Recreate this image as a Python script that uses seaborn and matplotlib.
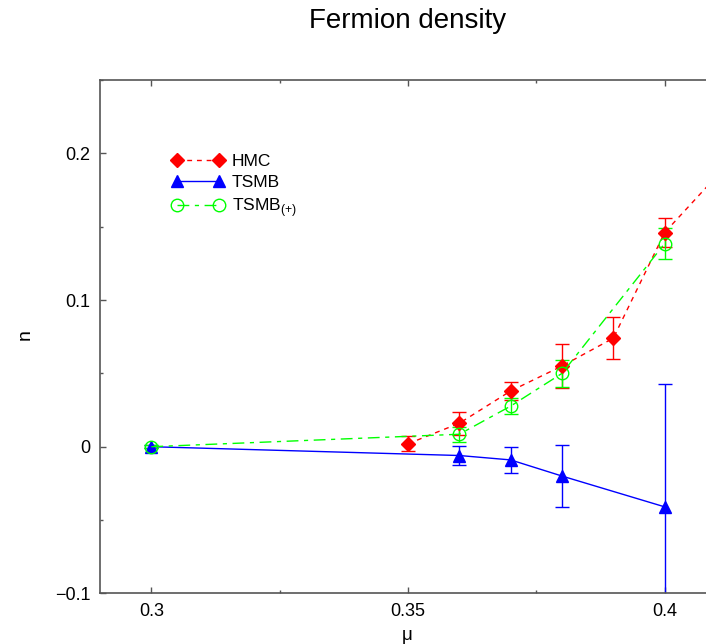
import matplotlib
matplotlib.use("Agg")
import matplotlib.pyplot as plt
import seaborn as sns
import pandas as pd
from matplotlib.ticker import FixedLocator, MultipleLocator

# ---- data ----
mu_hmc = [0.35, 0.36, 0.37, 0.38, 0.39, 0.40, 0.41]
n_hmc = [0.002, 0.016, 0.038, 0.055, 0.074, 0.146, 0.184]
err_hmc = [0.005, 0.008, 0.006, 0.015, 0.0145, 0.010, 0.010]

mu_tsmb = [0.30, 0.36, 0.37, 0.38, 0.40]
n_tsmb = [0.0, -0.006, -0.009, -0.020, -0.041]
err_tsmb = [0.001, 0.0067, 0.009, 0.021, 0.084]

mu_tsmbp = [0.30, 0.36, 0.37, 0.38, 0.40]
n_tsmbp = [0.0, 0.0085, 0.0277, 0.050, 0.1385]
err_tsmbp = [0.001, 0.005, 0.0055, 0.009, 0.0108]

x_ticks = [0.30, 0.35, 0.40]
x_ticklabels = ["0.3", "0.35", "0.4"]
y_ticks = [-0.1, 0.0, 0.1, 0.2]
y_ticklabels = ["\u22120.1", "0", "0.1", "0.2"]

title = "Fermion density"
xlabel = "\u03bc"
ylabel = "n"
labels = ["HMC", "TSMB", r"TSMB$_{\mathregular{(+)}}$"]

# ---- style ----
sns.set_style("ticks")
plt.rcParams["font.family"] = ["Liberation Sans", "DejaVu Sans"]
plt.rcParams["mathtext.fontset"] = "custom"
plt.rcParams["mathtext.rm"] = "Liberation Sans"
plt.rcParams["text.color"] = "black"
plt.rcParams["xtick.labelcolor"] = "black"
plt.rcParams["ytick.labelcolor"] = "black"

W, H = 706, 644
fig = plt.figure(figsize=(W / 100, H / 100), dpi=100)
ax_l, ax_r, ax_t, ax_b = 100, 716, 80, 593.4
ax = fig.add_axes([ax_l / W, (H - ax_b) / H, (ax_r - ax_l) / W, (ax_b - ax_t) / H])

spine_col = "#555555"

series = [
    (mu_hmc, n_hmc, err_hmc, "#ff0000", "D", 7, (3.5, 3.5), True, labels[0]),
    (mu_tsmb, n_tsmb, err_tsmb, "#0000ff", "^", 8.5, None, True, labels[1]),
    (mu_tsmbp, n_tsmbp, err_tsmbp, "#00ff00", "o", 9, (8.5, 4, 3, 4), False, labels[2]),
]

for mu, n, err, col, mk, ms, dash, filled, lab in series:
    df = pd.DataFrame({"mu": mu, "n": n})
    ax.errorbar(mu, n, yerr=err, fmt="none", ecolor=col, elinewidth=1.0,
                capsize=5, capthick=1.0, zorder=2)
    kw = dict(color=col, marker=mk, markersize=ms, linewidth=1.0,
              markeredgecolor=col, markeredgewidth=1.0)
    kw["markerfacecolor"] = col if filled else "none"
    sns.lineplot(data=df, x="mu", y="n", ax=ax, label=lab, sort=False,
                 zorder=3, **kw)
    l = ax.get_lines()[-1]
    if dash is not None:
        l.set_dashes(dash)

ax.set_xlim(0.29, 0.41)
ax.set_ylim(-0.1, 0.25)
ax.xaxis.set_major_locator(FixedLocator(x_ticks))
ax.set_xticklabels(x_ticklabels)
ax.xaxis.set_minor_locator(MultipleLocator(0.025))
ax.yaxis.set_major_locator(FixedLocator(y_ticks))
ax.set_yticklabels(y_ticklabels)
ax.yaxis.set_minor_locator(MultipleLocator(0.05))

ax.tick_params(which="both", direction="in", top=True, right=True,
               color=spine_col, width=1.0)
ax.tick_params(which="major", length=4.5, labelsize=13, pad=7)
ax.tick_params(which="minor", length=2.5)
for s in ax.spines.values():
    s.set_color(spine_col)
    s.set_linewidth(1.2)

ax.set_xlabel("")
ax.set_ylabel("")
fig.text(407 / W, (H - 636) / H, xlabel, ha="center", va="center", fontsize=13.5)
fig.text(25 / W, (H - 335) / H, ylabel, ha="center", va="center", fontsize=14,
         rotation=90)
fig.text(408 / W, (H - 28) / H, title, ha="center", va="baseline", fontsize=20)

handles, labs = ax.get_legend_handles_labels()
fs = 12.5
leg = ax.legend(handles, labs, numpoints=2, frameon=False, fontsize=fs,
                handlelength=3.02, handletextpad=0.45, labelspacing=0.35,
                borderpad=0, borderaxespad=0, loc="upper left",
                bbox_to_anchor=(171.8 / W, (H - 153.5) / H),
                bbox_transform=fig.transFigure)

fig.savefig("out.png", dpi=100)
